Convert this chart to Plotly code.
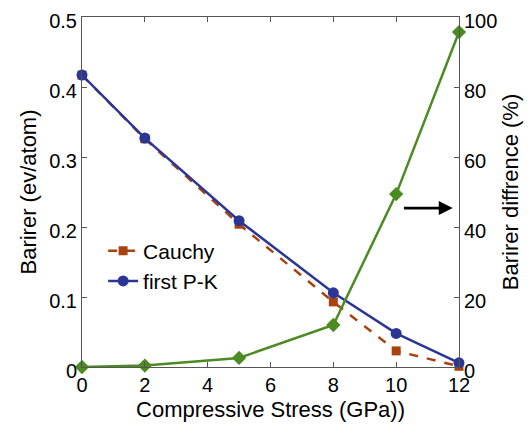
import plotly.graph_objects as go

stress = [0, 2, 5, 8, 10, 12]
cauchy = [0.417, 0.326, 0.204, 0.093, 0.023, 0.001]
first_pk = [0.417, 0.327, 0.209, 0.106, 0.048, 0.006]
diff_pct = [0.0, 0.4, 2.6, 12.0, 49.4, 95.7]

x_ticks = [0, 2, 4, 6, 8, 10, 12]
y_ticks = [0, 0.1, 0.2, 0.3, 0.4, 0.5]
y_ticktext = ["0", "0.1", "0.2", "0.3", "0.4", "0.5"]
y2_ticks = [0, 20, 40, 60, 80, 100]

blue = "#2b3694"
brown = "#a8430f"
green = "#4b8b22"
font = "Liberation Sans, Arial, sans-serif"

fig = go.Figure()
fig.add_trace(go.Scatter(
    x=stress, y=diff_pct, yaxis="y2", mode="lines+markers",
    line=dict(color=green, width=2.5),
    marker=dict(symbol="diamond", size=11, color=green),
    showlegend=False, cliponaxis=False))
fig.add_trace(go.Scatter(
    x=stress, y=cauchy, mode="lines+markers", name="Cauchy",
    line=dict(color=brown, width=2.5, dash="dash"),
    marker=dict(symbol="square", size=9, color=brown), cliponaxis=False))
fig.add_trace(go.Scatter(
    x=stress, y=first_pk, mode="lines+markers", name="first P-K",
    line=dict(color=blue, width=2.5),
    marker=dict(symbol="circle", size=11, color=blue), cliponaxis=False))

fig.add_annotation(
    x=11.8, y=45.4, ax=10.2, ay=45.4, xref="x", yref="y2", axref="x", ayref="y2",
    text="", showarrow=True, arrowhead=2, arrowsize=1, arrowwidth=2.8, arrowcolor="black")

axis_common = dict(showgrid=False, zeroline=False, ticks="inside", ticklen=5,
                   tickcolor="#555", linecolor="#555", linewidth=1,
                   ticklabeloverflow="allow", automargin=False,
                   tickfont=dict(size=20, color="black", family=font))

fig.update_layout(
    width=524, height=428,
    margin=dict(l=74, r=73, t=9, b=69),
    plot_bgcolor="white", paper_bgcolor="white",
    font=dict(family=font, color="black"),
    xaxis=dict(range=[0, 12], tickvals=x_ticks, mirror="ticks", showline=True,
               title=dict(text="Compressive Stress (GPa))", font=dict(size=22), standoff=6),
               **axis_common),
    yaxis=dict(range=[0, 0.5], tickvals=y_ticks, ticktext=y_ticktext, showline=True,
               ticklabelshift=4,
               title=dict(text="Barirer (ev/atom)", font=dict(size=22), standoff=6),
               **axis_common),
    yaxis2=dict(range=[0, 100], tickvals=y2_ticks, overlaying="y", side="right",
                showline=True, ticklabelshift=4,
                title=dict(text="Barirer diffrence (%)", font=dict(size=22), standoff=6),
                **axis_common),
    legend=dict(x=0.056, y=0.39, xanchor="left", yanchor="top",
                bgcolor="rgba(0,0,0,0)", font=dict(size=21, family=font),
                itemwidth=30, tracegroupgap=0),
)

fig.write_html("out.html")
